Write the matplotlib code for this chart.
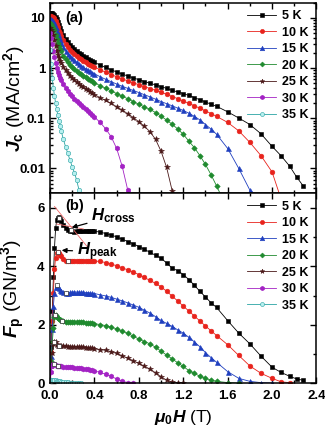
import matplotlib
matplotlib.use('Agg')
import matplotlib.pyplot as plt
import numpy as np
from matplotlib.ticker import MultipleLocator, FixedLocator, LogLocator, NullFormatter, FormatStrFormatter

plt.rcParams['font.family'] = 'Liberation Sans'
plt.rcParams['font.weight'] = 'bold'
plt.rcParams['mathtext.fontset'] = 'custom'
plt.rcParams['mathtext.rm'] = 'Liberation Sans:bold'
plt.rcParams['mathtext.bf'] = 'Liberation Sans:bold'
plt.rcParams['mathtext.it'] = 'Liberation Sans:italic:bold'

# field points (T)
field = [0, 0.01, 0.02, 0.03, 0.04, 0.05, 0.06, 0.07, 0.08, 0.09, 0.10,
         0.12, 0.14, 0.16, 0.18, 0.20, 0.22, 0.24, 0.26, 0.28, 0.30,
         0.32, 0.34, 0.36, 0.38, 0.40, 0.45, 0.50, 0.55, 0.60, 0.65,
         0.70, 0.75, 0.80, 0.85, 0.90, 0.95, 1.00, 1.05, 1.10, 1.15,
         1.20, 1.25, 1.30, 1.35, 1.40, 1.45, 1.50, 1.60, 1.70, 1.80,
         1.90, 2.00, 2.08, 2.16, 2.22, 2.28]

# Jc (MA/cm^2) for each temperature
jc_5K = [12.5, 12.4, 12.3, 12.1, 11.6, 10.6, 9.3, 8.1, 7.1, 6.25,
         5.55, 4.5, 3.8, 3.28, 2.9, 2.6, 2.36, 2.17, 2.0, 1.86,
         1.74, 1.63, 1.53, 1.445, 1.37, 1.3, 1.15, 1.025, 0.922, 0.835,
         0.758, 0.693, 0.636, 0.585, 0.539, 0.498, 0.461, 0.428, 0.392, 0.358,
         0.335, 0.31, 0.284, 0.258, 0.233, 0.211, 0.19, 0.173, 0.134, 0.101,
         0.075, 0.049, 0.0275, 0.018, 0.011, 0.0068, 0.0045]
jc_10K = [10.8, 10.7, 10.6, 10.3, 9.75, 8.6, 7.42, 6.43, 5.56, 4.89,
          4.35, 3.54, 3.0, 2.61, 2.32, 2.09, 1.9, 1.74, 1.61, 1.49,
          1.39, 1.31, 1.23, 1.16, 1.1, 1.045, 0.927, 0.826, 0.742, 0.67,
          0.608, 0.554, 0.507, 0.465, 0.426, 0.391, 0.36, 0.33, 0.3, 0.271,
          0.245, 0.22, 0.198, 0.177, 0.158, 0.14, 0.124, 0.109, 0.0825, 0.056,
          0.033, 0.018, 0.0085, 0.0025, 0.001]
jc_15K = [9.6, 9.5, 9.25, 8.83, 7.75, 6.6, 5.58, 4.71, 4.06, 3.56,
          3.17, 2.6, 2.21, 1.94, 1.73, 1.56, 1.42, 1.3, 1.2, 1.11,
          1.04, 0.969, 0.912, 0.858, 0.81, 0.768, 0.673, 0.598, 0.535, 0.48,
          0.434, 0.393, 0.357, 0.325, 0.294, 0.267, 0.24, 0.215, 0.195, 0.177,
          0.159, 0.143, 0.126, 0.109, 0.0926, 0.075, 0.0607, 0.048, 0.025, 0.01,
          0.0037, 0.0012, 0.0005]
jc_20K = [7.8, 7.5, 7.0, 6.3, 5.7, 4.65, 3.8, 3.2, 2.75, 2.42,
          2.15, 1.77, 1.51, 1.32, 1.17, 1.055, 0.958, 0.877, 0.808, 0.748,
          0.695, 0.65, 0.61, 0.574, 0.54, 0.51, 0.447, 0.395, 0.35, 0.31,
          0.275, 0.244, 0.215, 0.189, 0.168, 0.15, 0.13, 0.11, 0.092, 0.076,
          0.061, 0.048, 0.035, 0.026, 0.018, 0.012, 0.0075, 0.0045, 0.0015, 0.0004]
jc_25K = [6.3, 5.8, 5.2, 4.5, 3.55, 2.8, 2.2, 1.83, 1.58, 1.4,
          1.26, 1.05, 0.9, 0.786, 0.698, 0.627, 0.568, 0.52, 0.478, 0.442,
          0.41, 0.382, 0.357, 0.335, 0.314, 0.296, 0.257, 0.226, 0.197, 0.17,
          0.145, 0.123, 0.103, 0.085, 0.069, 0.054, 0.038, 0.022, 0.0105, 0.0036,
          0.0012, 0.0004]
jc_30K = [5.0, 4.0, 3.0, 2.2, 1.65, 1.25, 1.0, 0.84, 0.73, 0.645,
          0.578, 0.478, 0.405, 0.35, 0.307, 0.273, 0.245, 0.221, 0.2, 0.182,
          0.166, 0.152, 0.139, 0.127, 0.116, 0.106, 0.083, 0.062, 0.043, 0.025,
          0.011, 0.0037, 0.001]
jc_35K = [2.3, 1.2, 0.62, 0.4, 0.28, 0.2, 0.15, 0.115, 0.09, 0.07,
          0.056, 0.038, 0.027, 0.02, 0.0145, 0.0108, 0.0082, 0.0058, 0.0038, 0.0022]

labels = ['5 K', '10 K', '15 K', '20 K', '25 K', '30 K', '35 K']
colors = ['#000000', '#e8231c', '#1f3fbf', '#1f8a2e', '#4a1818', '#a322c4', '#2aa3a3']
markers = ['s', 'o', '^', 'D', '*', 'h', 'o']
sizes = [3.2, 3.4, 3.6, 2.8, 3.8, 3.6, 3.2]
all_jc = [jc_5K, jc_10K, jc_15K, jc_20K, jc_25K, jc_30K, jc_35K]

# H_peak and H_cross points marked on the Fp curves
peak_h = [0.08, 0.07, 0.06, 0.045, 0.04, 0.035]
peak_fp = [5.66, 4.5, 3.35, 2.32, 1.42, 0.66]
cross_h = [0.19, 0.16, 0.14, 0.11, 0.08, 0.075]
cross_fp = [5.25, 4.2, 3.1, 2.12, 1.26, 0.59]

fig = plt.figure(figsize=(3.25, 4.29), dpi=100)
ax1 = fig.add_axes([0.154, 0.5494, 0.8198, 0.4443])
ax2 = fig.add_axes([0.154, 0.1065, 0.8198, 0.4429])

field = np.array(field)
for jc, lab, c, m, s in zip(all_jc, labels, colors, markers, sizes):
    h = field[:len(jc)]
    jc = np.array(jc)
    fc = '#b8f0f0' if lab == '35 K' else c
    ax1.plot(h, jc, color=c, marker=m, ms=s, lw=0.6, mfc=fc, mec=c, mew=0.4, label=lab)
    ax2.plot(h, 10 * h * jc, color=c, marker=m, ms=s, lw=0.6, mfc=fc, mec=c, mew=0.4, label=lab)

# fit lines used to find H_cross
ax2.plot([0.04, 0.34], [6.05, 4.65], color='#f06a6a', lw=0.6)
ax2.plot([0.06, 0.30], [5.45, 5.28], color='#f06a6a', lw=0.6)
ax2.plot(peak_h, peak_fp, 's', ms=2.6, mfc='white', mec='#333333', mew=0.5, ls='none')
ax2.plot(cross_h, cross_fp, 's', ms=2.6, mfc='white', mec='#333333', mew=0.5, ls='none')

ax1.set_yscale('log')
ax1.set_ylim(0.0032, 20)
ax1.yaxis.set_major_locator(FixedLocator([0.01, 0.1, 1, 10]))
ax1.set_yticklabels(['0.01', '0.1', '1', '10'])
ax1.yaxis.set_minor_locator(LogLocator(base=10, subs=np.arange(2, 10)))
ax1.yaxis.set_minor_formatter(NullFormatter())

ax2.set_ylim(0, 6.5)
ax2.yaxis.set_major_locator(MultipleLocator(2))
ax2.yaxis.set_minor_locator(MultipleLocator(1))
ax2.yaxis.set_major_formatter(FormatStrFormatter('%d'))

for ax in (ax1, ax2):
    ax.set_xlim(0, 2.4)
    ax.xaxis.set_major_locator(MultipleLocator(0.4))
    ax.xaxis.set_minor_locator(MultipleLocator(0.2))
    ax.xaxis.set_major_formatter(FormatStrFormatter('%.1f'))
    ax.tick_params(which='both', direction='in', top=True, right=True, width=1, labelsize=9.5)
    ax.tick_params(which='major', length=4)
    ax.tick_params(which='minor', length=2.5)
    for sp in ax.spines.values():
        sp.set_linewidth(1.1)
    ax.legend(loc='upper right', frameon=False, fontsize=9, handlelength=2.3,
              labelspacing=0.36, borderaxespad=0.2, handletextpad=0.5, markerscale=0.9)

ax1.tick_params(labelbottom=False)
ax2.tick_params(axis='x', pad=5)
ax2.tick_params(axis='y', pad=4)

ax1.set_ylabel(r'$J_{\rm c}$ (MA/cm$^{\rm 2}$)', fontsize=14)
ax2.set_ylabel(r'$F_{\rm p}$ (GN/m$^{\rm 3}$)', fontsize=14)
ax1.yaxis.set_label_coords(-0.085, 0.5)
ax2.yaxis.set_label_coords(-0.085, 0.5)
ax2.set_xlabel(r'$\mu_0H$ (T)', fontsize=12.5, labelpad=4)

ax1.text(0.056, 0.92, '(a)', transform=ax1.transAxes, fontsize=10.5, va='center')
ax2.text(0.056, 0.933, '(b)', transform=ax2.transAxes, fontsize=10.5, va='center')

ax2.annotate(r'$H_{\rm cross}$', xy=(0.195, 5.33), xytext=(0.37, 5.72), fontsize=12,
             va='center', ha='left',
             arrowprops=dict(arrowstyle='-|>', color='black', lw=0.9, mutation_scale=7, shrinkA=1, shrinkB=0))
ax2.annotate(r'$H_{\rm peak}$', xy=(0.105, 4.55), xytext=(0.24, 4.5), fontsize=12,
             va='center', ha='left',
             arrowprops=dict(arrowstyle='-|>', color='black', lw=0.9, mutation_scale=7, shrinkA=1, shrinkB=0))

fig.savefig('out.png', dpi=100)
